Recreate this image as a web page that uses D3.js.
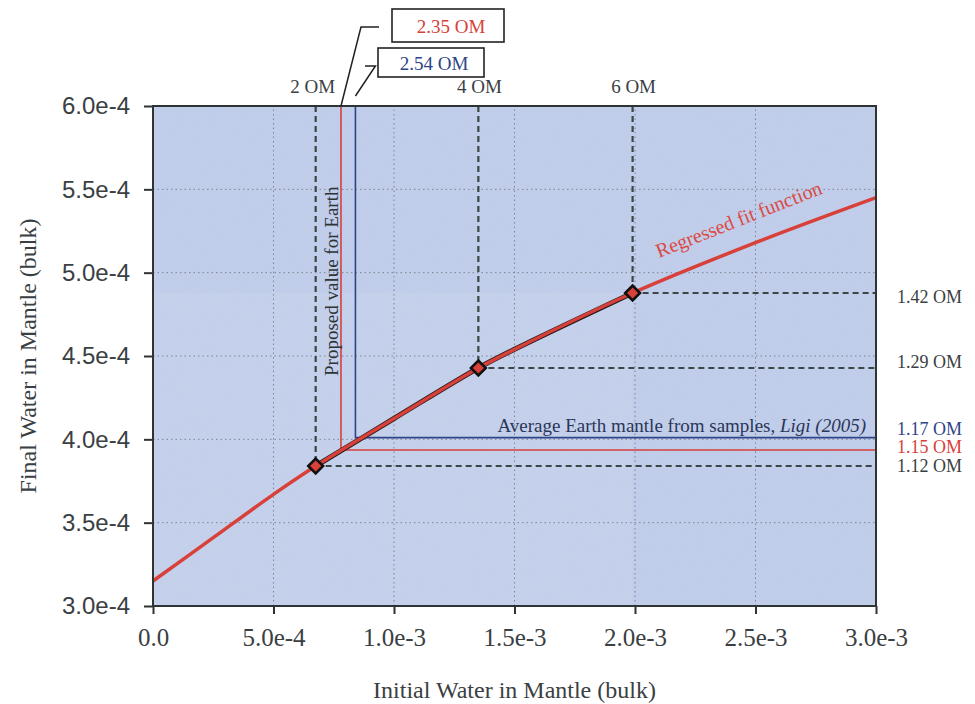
<!DOCTYPE html>
<html>
<head>
<meta charset="utf-8">
<script src="https://cdn.jsdelivr.net/npm/d3@7"></script>
<style>
  body { margin: 0; background: #fff; }
  svg { display: block; }
</style>
</head>
<body>
<div id="chart"></div>
<script>
// Regressed fit curve
const fitX = [0, 2.5e-4, 5.0e-4, 6.75e-4, 1.0e-3, 1.35e-3, 1.5e-3, 1.99e-3, 2.5e-3, 3.0e-3];
const fitY = [3.15e-4, 3.41e-4, 3.67e-4, 3.84e-4, 4.125e-4, 4.428e-4, 4.54e-4, 4.878e-4, 5.18e-4, 5.45e-4];

// Simulated points (2, 4, 6 ocean masses)
const pointX = [6.75e-4, 1.35e-3, 1.99e-3];
const pointY = [3.84e-4, 4.428e-4, 4.878e-4];
const pointTopLabels = ['2 OM', '4 OM', '6 OM'];
const pointRightLabels = ['1.12 OM', '1.29 OM', '1.42 OM'];

// Earth values: proposed (red) and from samples (blue)
const earthNames = ['proposed', 'samples'];
const earthInitial = [7.80e-4, 8.40e-4];
const earthFinal = [3.936e-4, 4.01e-4];
const earthInitialLabels = ['2.35 OM', '2.54 OM'];
const earthFinalLabels = ['1.15 OM', '1.17 OM'];

const xTicks = [0, 5e-4, 1e-3, 1.5e-3, 2e-3, 2.5e-3, 3e-3];
const xTickLabels = ['0.0', '5.0e-4', '1.0e-3', '1.5e-3', '2.0e-3', '2.5e-3', '3.0e-3'];
const yTicks = [3e-4, 3.5e-4, 4e-4, 4.5e-4, 5e-4, 5.5e-4, 6e-4];
const yTickLabels = ['3.0e-4', '3.5e-4', '4.0e-4', '4.5e-4', '5.0e-4', '5.5e-4', '6.0e-4'];

const width = 975, height = 704;
const margin = { top: 106, right: 99, bottom: 98, left: 153 };
const serif = '"Liberation Serif", "Times New Roman", serif';
const sans = '"Liberation Sans", Arial, sans-serif';
const textColor = '#3a4042';
const red = '#d8403a';
const blue = '#2e4488';
const dashColor = '#3b4646';

const svg = d3.select('#chart')
    .append('svg')
    .attr('width', width)
    .attr('height', height);

const x = d3.scaleLinear().domain([0, 3e-3]).range([margin.left, width - margin.right]);
const y = d3.scaleLinear().domain([3e-4, 6e-4]).range([height - margin.bottom, margin.top]);

const plotW = x(3e-3) - x(0);
const plotH = y(3e-4) - y(6e-4);

// grain filter for the plot background
const defs = svg.append('defs');
const grain = defs.append('filter').attr('id', 'grain')
    .attr('x', 0).attr('y', 0).attr('width', 1).attr('height', 1);
grain.append('feTurbulence').attr('type', 'fractalNoise').attr('baseFrequency', 0.9).attr('numOctaves', 2).attr('result', 'n');
grain.append('feColorMatrix').attr('in', 'n').attr('type', 'matrix')
    .attr('values', '0 0 0 0 0.62  0 0 0 0 0.67  0 0 0 0 0.78  0 0 0 0.6 0');
defs.append('clipPath').attr('id', 'plotClip')
    .append('rect')
    .attr('x', x(0)).attr('y', y(6e-4))
    .attr('width', plotW).attr('height', plotH);

// Plot background
svg.append('rect')
    .attr('x', x(0)).attr('y', y(6e-4))
    .attr('width', plotW).attr('height', plotH)
    .style('fill', '#c0cdea');

svg.append('g').attr('clip-path', 'url(#plotClip)')
    .append('rect')
    .attr('x', x(0)).attr('y', y(6e-4))
    .attr('width', plotW).attr('height', plotH)
    .attr('filter', 'url(#grain)')
    .style('opacity', 0.15);

// slightly lighter block below the 6 OM point
svg.append('rect')
    .attr('x', x(0)).attr('y', y(pointY[2]))
    .attr('width', x(pointX[2]) - x(0)).attr('height', y(3e-4) - y(pointY[2]))
    .style('fill', '#ffffff')
    .style('opacity', 0.07);

// Grid lines
const grid = svg.append('g').attr('clip-path', 'url(#plotClip)');
grid.selectAll('line.vx')
    .data(xTicks.slice(1, -1))
    .enter()
    .append('line')
    .attr('x1', d => x(d)).attr('x2', d => x(d))
    .attr('y1', y(3e-4)).attr('y2', y(6e-4))
    .style('stroke', '#7d8594')
    .style('stroke-width', 1)
    .style('stroke-dasharray', '1.5,3');
grid.selectAll('line.hy')
    .data(yTicks.slice(1, -1))
    .enter()
    .append('line')
    .attr('x1', x(0)).attr('x2', x(3e-3))
    .attr('y1', d => y(d)).attr('y2', d => y(d))
    .style('stroke', '#7d8594')
    .style('stroke-width', 1)
    .style('stroke-dasharray', '1.5,3');

// Dashed guide lines for the points
const guides = svg.append('g');
pointX.forEach((px, i) => {
    guides.append('line')
        .attr('x1', x(px)).attr('x2', x(px))
        .attr('y1', y(6e-4)).attr('y2', y(pointY[i]))
        .style('stroke', dashColor).style('stroke-width', 2.2)
        .style('stroke-dasharray', '6,4');
    guides.append('line')
        .attr('x1', x(px)).attr('x2', x(3e-3))
        .attr('y1', y(pointY[i])).attr('y2', y(pointY[i]))
        .style('stroke', dashColor).style('stroke-width', 2.2)
        .style('stroke-dasharray', '6,4');
});

// Earth lines (red proposed, blue samples)
const earthColors = [red, blue];
earthNames.forEach((name, i) => {
    svg.append('path')
        .attr('d', d3.line()([
            [x(earthInitial[i]), y(6e-4)],
            [x(earthInitial[i]), y(earthFinal[i])],
            [x(3e-3), y(earthFinal[i])]
        ]))
        .style('fill', 'none')
        .style('stroke', earthColors[i])
        .style('stroke-width', 1.6);
});

// Fit curve
const fitData = fitX.map((d, i) => [d, fitY[i]]);
const line = d3.line()
    .x(d => x(d[0]))
    .y(d => y(d[1]))
    .curve(d3.curveCatmullRom.alpha(0.5));

// dark edge between the simulated points
svg.append('path')
    .datum(fitData.filter(d => d[0] >= pointX[0] && d[0] <= pointX[2]))
    .attr('d', line)
    .style('fill', 'none')
    .style('stroke', '#2a1a1a')
    .style('stroke-width', 5);

svg.append('path')
    .datum(fitData)
    .attr('d', line)
    .style('fill', 'none')
    .style('stroke', red)
    .style('stroke-width', 3.5);

// Points
svg.selectAll('path.pt')
    .data(pointX)
    .enter()
    .append('path')
    .attr('d', d3.symbol().type(d3.symbolSquare).size(110))
    .attr('transform', (d, i) => `translate(${x(d)},${y(pointY[i])}) rotate(45)`)
    .style('fill', red)
    .style('stroke', '#111')
    .style('stroke-width', 2.6);

// Frame
svg.append('rect')
    .attr('x', x(0)).attr('y', y(6e-4))
    .attr('width', plotW).attr('height', plotH)
    .style('fill', 'none')
    .style('stroke', '#2e3333')
    .style('stroke-width', 2);

// Axes
const xAxis = svg.append('g')
    .attr('transform', `translate(0,${y(3e-4)})`)
    .call(d3.axisBottom(x).tickValues(xTicks).tickFormat((d, i) => xTickLabels[i]).tickSize(8).tickPadding(14));
xAxis.select('.domain').remove();
xAxis.selectAll('line').style('stroke', '#2e3333').style('stroke-width', 2);
xAxis.selectAll('text')
    .style('font-family', serif).style('font-size', '25px').style('fill', textColor);

const yAxis = svg.append('g')
    .attr('transform', `translate(${x(0)},0)`)
    .call(d3.axisLeft(y).tickValues(yTicks).tickFormat((d, i) => yTickLabels[i]).tickSize(9).tickPadding(14));
yAxis.select('.domain').remove();
yAxis.selectAll('line').style('stroke', '#2e3333').style('stroke-width', 2);
yAxis.selectAll('text')
    .style('font-family', sans).style('font-size', '24px').style('fill', textColor);

// Axis titles
svg.append('text')
    .attr('x', (x(0) + x(3e-3)) / 2)
    .attr('y', 698)
    .attr('text-anchor', 'middle')
    .style('font-family', serif).style('font-size', '24px').style('fill', textColor)
    .text('Initial Water in Mantle (bulk)');

svg.append('text')
    .attr('transform', `translate(36,${(y(3e-4) + y(6e-4)) / 2}) rotate(-90)`)
    .attr('text-anchor', 'middle')
    .style('font-family', serif).style('font-size', '24px').style('fill', textColor)
    .text('Final Water in Mantle (bulk)');

// Labels above the point guides
svg.selectAll('text.top')
    .data(pointX)
    .enter()
    .append('text')
    .attr('x', (d, i) => x(d) - (i === 0 ? 3 : -1))
    .attr('y', 93)
    .attr('text-anchor', 'middle')
    .style('font-family', serif).style('font-size', '19px').style('fill', textColor)
    .text((d, i) => pointTopLabels[i]);

// Right-hand labels
const rightLabels = [
    { text: pointRightLabels[2], v: pointY[2], dy: 4, color: textColor },
    { text: pointRightLabels[1], v: pointY[1], dy: -6, color: textColor },
    { text: earthFinalLabels[1], v: earthFinal[1], dy: -9, color: blue },
    { text: earthFinalLabels[0], v: earthFinal[0], dy: -3, color: red },
    { text: pointRightLabels[0], v: pointY[0], dy: 0, color: textColor }
];
svg.selectAll('text.right')
    .data(rightLabels)
    .enter()
    .append('text')
    .attr('x', 897)
    .attr('y', d => y(d.v) + d.dy + 6)
    .style('font-family', serif).style('font-size', '18px').style('fill', d => d.color)
    .text(d => d.text);

// Callout boxes for the Earth initial values
const callouts = [
    { label: earthInitialLabels[0], xv: earthInitial[0], topY: y(6e-4), elbowY: 27, boxX: 392, boxY: 9, boxW: 112, boxH: 33, color: red, endX: 379 },
    { label: earthInitialLabels[1], xv: earthInitial[1], topY: 96, elbowY: 66, boxX: 378, boxY: 48, boxW: 106, boxH: 29, color: blue, endX: 365 }
];
callouts.forEach(c => {
    const x0 = x(c.xv);
    svg.append('path')
        .attr('d', d3.line()([[x0, c.topY], [x0 + 20, c.elbowY], [c.endX, c.elbowY]]))
        .style('fill', 'none').style('stroke', '#222').style('stroke-width', 1.5);
    svg.append('rect')
        .attr('x', c.boxX).attr('y', c.boxY)
        .attr('width', c.boxW).attr('height', c.boxH)
        .style('fill', '#fff').style('stroke', '#222').style('stroke-width', 1.6);
    svg.append('text')
        .attr('x', c.boxX + c.boxW / 2 + 3)
        .attr('y', c.boxY + c.boxH / 2 + 7)
        .attr('text-anchor', 'middle')
        .style('font-family', serif).style('font-size', '19px').style('fill', c.color)
        .text(c.label);
});

// In-plot annotations
svg.append('text')
    .attr('transform', `translate(${x(pointX[0]) + 22},376) rotate(-90)`)
    .style('font-family', serif).style('font-size', '19px').style('fill', '#2c3436')
    .text('Proposed value for Earth');

const avg = svg.append('text')
    .attr('x', 866)
    .attr('y', y(earthFinal[1]) - 6)
    .attr('text-anchor', 'end')
    .style('font-family', serif).style('font-size', '19px').style('fill', '#2a3658');
avg.append('tspan').text('Average Earth mantle from samples, ');
avg.append('tspan').style('font-style', 'italic').text('Ligi (2005)');

svg.append('text')
    .attr('transform', 'translate(659,258) rotate(-21.5)')
    .style('font-family', serif).style('font-size', '20px').style('fill', '#dc4a44')
    .text('Regressed fit function');
</script>
</body>
</html>
